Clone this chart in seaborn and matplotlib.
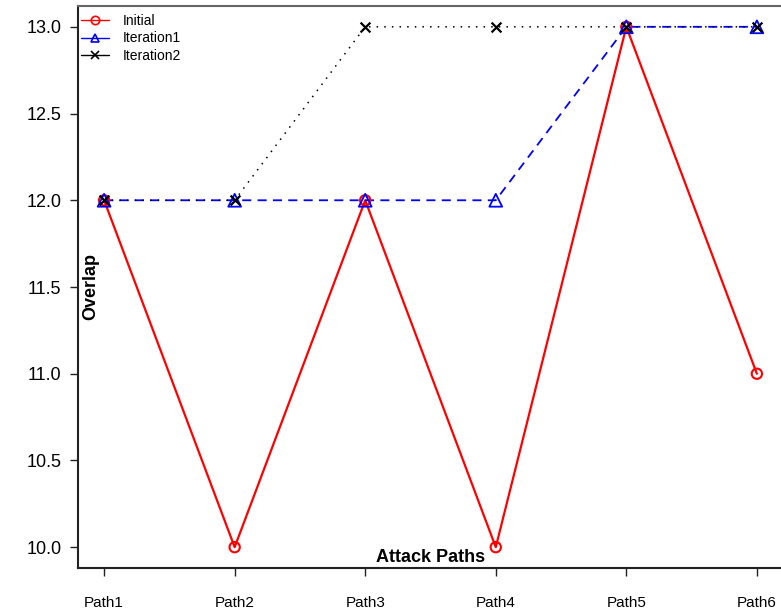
import matplotlib
matplotlib.use("Agg")
import matplotlib.pyplot as plt
from matplotlib.lines import Line2D
import seaborn as sns
import pandas as pd

paths = ["Path1", "Path2", "Path3", "Path4", "Path5", "Path6"]
initial = [12, 10, 12, 10, 13, 11]
iteration1 = [12, 12, 12, 12, 13, 13]
iteration2 = [12, 12, 13, 13, 13, 13]
y_ticks = [10.0, 10.5, 11.0, 11.5, 12.0, 12.5, 13.0]

sns.set_theme(style="white")
plt.rcParams["font.family"] = ["Liberation Sans", "DejaVu Sans"]
plt.rcParams["text.color"] = "black"
plt.rcParams["xtick.color"] = "black"
plt.rcParams["ytick.color"] = "black"

fig = plt.figure(figsize=(7.81, 6.12), dpi=100)
ax = fig.add_axes([78 / 781, 44 / 612, 705 / 781, 562 / 612])

df = pd.DataFrame({"x": list(range(len(paths))),
                   "Initial": initial,
                   "Iteration1": iteration1,
                   "Iteration2": iteration2})

styles = [
    ("Initial", "#ff0000", 1.6, "-", "o", 55, 1.5),
    ("Iteration1", "#0000ff", 1.3, (0, (5, 3.5)), "^", 85, 1.3),
    ("Iteration2", "black", 1.1, (0, (1, 4)), "x", 50, 1.6),
]

handles = []
for i, (name, col, lw, ls, mk, ms, mew) in enumerate(styles):
    sns.lineplot(data=df, x="x", y=name, ax=ax, color=col, lw=lw,
                 linestyle=ls, zorder=2 + i, legend=False)
    if mk == "x":
        sns.scatterplot(data=df, x="x", y=name, ax=ax, color=col, marker=mk,
                        s=ms, linewidth=mew, zorder=5 + i, legend=False)
    else:
        sns.scatterplot(data=df, x="x", y=name, ax=ax, marker=mk, s=ms,
                        facecolor="none", edgecolor=col, linewidth=mew,
                        zorder=5 + i, legend=False)
    handles.append(Line2D([], [], color=col, lw=1.0, linestyle="-", marker=mk,
                          markersize=6, markerfacecolor="none",
                          markeredgecolor=col, markeredgewidth=1.2, label=name))

ax.set_xlim(-0.2, 5.2)
ax.set_ylim(9.88, 13.12)
ax.set_xticks(range(len(paths)))
ax.set_xticklabels(paths, fontsize=11)
ax.set_yticks(y_ticks)
ax.set_yticklabels([f"{v:.1f}" for v in y_ticks], fontsize=13)
ax.tick_params(axis="x", direction="out", length=6, width=1, pad=14, color="#222222", bottom=True)
ax.tick_params(axis="y", direction="out", length=6, width=1, pad=6, color="#222222", left=True)

ax.set_xlabel("")
ax.set_ylabel("")
ax.text(0.5, 0.018, "Attack Paths", transform=ax.transAxes, ha="center", va="center",
        fontsize=13, fontweight="bold", color="black")
ax.text(0.018, 0.5, "Overlap", transform=ax.transAxes, ha="center", va="center",
        rotation=90, fontsize=13, fontweight="bold", color="black")

for name in ["left", "bottom"]:
    ax.spines[name].set_color("#222222")
    ax.spines[name].set_linewidth(1.5)
ax.spines["top"].set_color("#666666")
ax.spines["top"].set_linewidth(1.5)
ax.spines["right"].set_visible(False)
ax.grid(False)

ax.legend(handles=handles, loc="upper left", bbox_to_anchor=(81 / 781, 1 - 14 / 612),
          bbox_transform=fig.transFigure, frameon=False, fontsize=10,
          handlelength=2.0, handletextpad=1.0, labelspacing=0.25,
          borderpad=0, borderaxespad=0)

fig.savefig("out.png", dpi=100)
